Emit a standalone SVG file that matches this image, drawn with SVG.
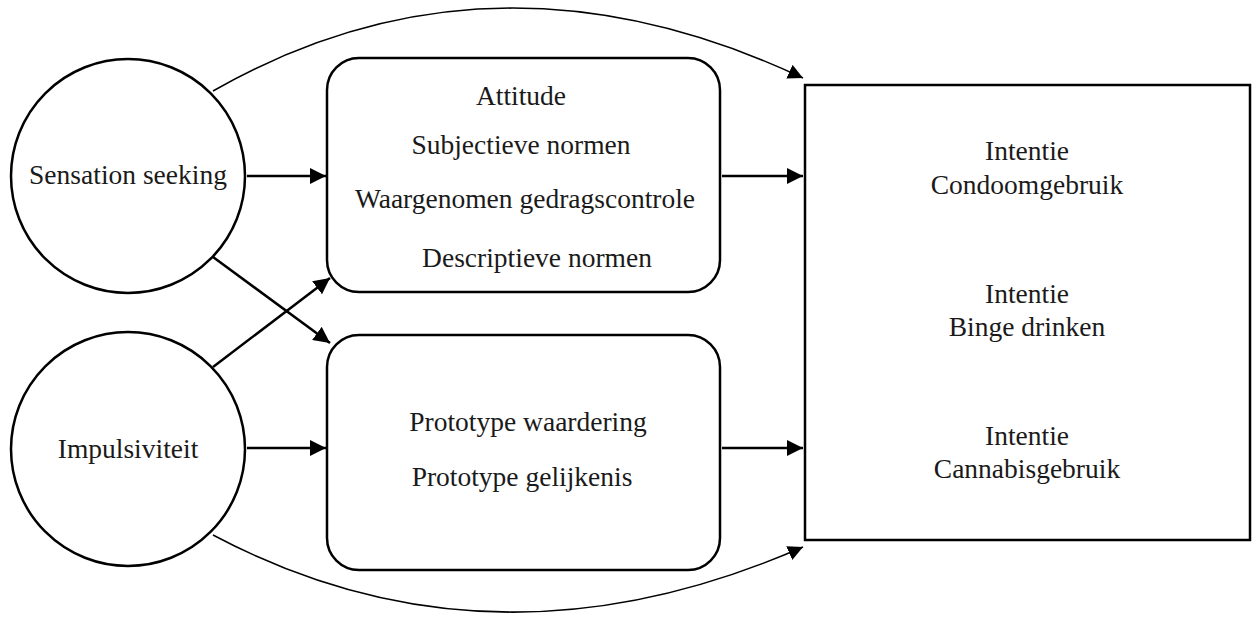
<svg xmlns="http://www.w3.org/2000/svg" width="1256" height="618" viewBox="0 0 1256 618">
<style>
.shape{fill:#fff;stroke:#000;stroke-width:2.5}
.t{font-family:"Liberation Serif","Times New Roman",serif;font-size:27.5px;fill:#1a1a1a;text-anchor:middle}
.c{fill:none;stroke:#000;stroke-width:2.5}
.cu{fill:none;stroke:#000;stroke-width:1.5}
</style>
<defs>
<marker id="ah" viewBox="0 0 10 10" refX="10" refY="5" markerWidth="6.5" markerHeight="6.5" orient="auto" markerUnits="strokeWidth"><path d="M0,0 L10,5 L0,10 z" fill="#000"/></marker>
<marker id="ah2" viewBox="0 0 10 10" refX="10" refY="5" markerWidth="10" markerHeight="10" orient="auto" markerUnits="strokeWidth"><path d="M0,0 L10,5 L0,10 z" fill="#000"/></marker>
</defs>
<rect width="1256" height="618" fill="#fff"/>
<g id="connectors">
<path class="cu" d="M213,91 Q492,-68 803,78" marker-end="url(#ah2)"/>
<path class="cu" d="M213,535 Q492,683 803,547" marker-end="url(#ah2)"/>
<line class="c" x1="247" y1="176" x2="326" y2="176" marker-end="url(#ah)"/>
<line class="c" x1="247" y1="448" x2="326" y2="448" marker-end="url(#ah)"/>
<line class="c" x1="722" y1="176" x2="803" y2="176" marker-end="url(#ah)"/>
<line class="c" x1="722" y1="448" x2="803" y2="448" marker-end="url(#ah)"/>
<line class="c" x1="213" y1="257" x2="330" y2="343" marker-end="url(#ah)"/>
<line class="c" x1="213" y1="367" x2="330" y2="278" marker-end="url(#ah)"/>
</g>
<g id="sensation">
<circle class="shape" cx="128" cy="176" r="117"/>
<text class="t" x="128" y="184">Sensation seeking</text>
</g>
<g id="impulsiviteit">
<circle class="shape" cx="128" cy="449" r="117"/>
<text class="t" x="128" y="458">Impulsiviteit</text>
</g>
<g id="beliefs">
<rect class="shape" x="327" y="58" width="393" height="234" rx="32"/>
<text class="t" x="521" y="105">Attitude</text>
<text class="t" x="521" y="154">Subjectieve normen</text>
<text class="t" x="525" y="208">Waargenomen gedragscontrole</text>
<text class="t" x="537" y="267">Descriptieve normen</text>
</g>
<g id="prototype">
<rect class="shape" x="327" y="335" width="393" height="235" rx="32"/>
<text class="t" x="528" y="431">Prototype waardering</text>
<text class="t" x="522" y="486">Prototype gelijkenis</text>
</g>
<g id="intentie">
<rect class="shape" x="805" y="85" width="445" height="455"/>
<text class="t" x="1027" y="160">Intentie</text>
<text class="t" x="1027" y="194">Condoomgebruik</text>
<text class="t" x="1027" y="303">Intentie</text>
<text class="t" x="1027" y="336">Binge drinken</text>
<text class="t" x="1027" y="445">Intentie</text>
<text class="t" x="1027" y="478">Cannabisgebruik</text>
</g>
</svg>
